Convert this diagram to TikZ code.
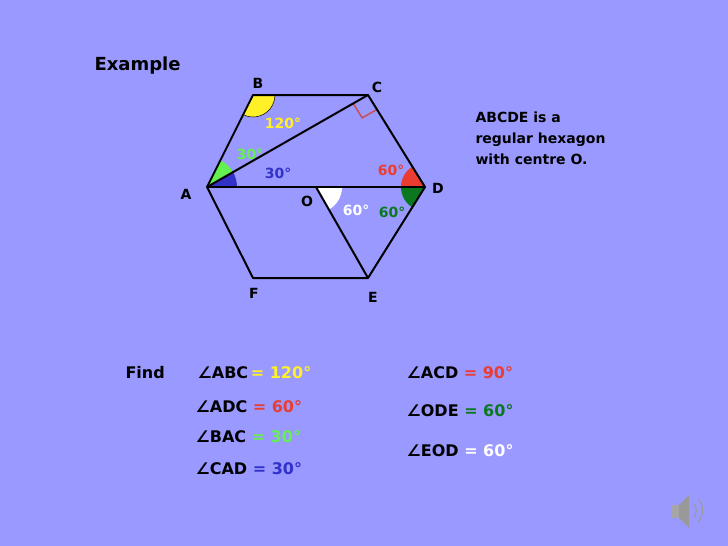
\documentclass[tikz,border=0pt]{standalone}
\usepackage{fontspec}
\usetikzlibrary{calc}
\setmainfont{DejaVu Sans}
\definecolor{bg}{RGB}{153,153,255}
\definecolor{yel}{RGB}{255,240,40}
\definecolor{lgr}{RGB}{100,240,80}
\definecolor{blu}{RGB}{50,50,200}
\definecolor{red1}{RGB}{235,60,50}
\definecolor{dgr}{RGB}{10,120,30}
\definecolor{rac}{RGB}{200,80,80}
\begin{document}
\begin{tikzpicture}[x=1pt,y=-1pt,
  lab/.style={font=\bfseries\fontsize{14}{16}\selectfont},
  txt/.style={font=\bfseries\fontsize{16}{18}\selectfont,anchor=west},
  edge/.style={line width=2pt,line join=round}]
\fill[bg] (0,0) rectangle (728,546);
\useasboundingbox (0,0) rectangle (728,546);
\coordinate (A) at (207,187); \coordinate (B) at (253,95); \coordinate (C) at (368,95);
\coordinate (D) at (425,187); \coordinate (E) at (368,278); \coordinate (F) at (253,278);
\coordinate (O) at (316,187);
% sectors
\fill[yel,draw=black,line width=0.5pt] (B) -- ++(116.6:22) arc[start angle=116.6,end angle=0,radius=22] -- cycle;
\fill[lgr] (A) -- ++(-63.4:30) arc[start angle=-63.4,end angle=-29.7,radius=30] -- cycle;
\fill[blu] (A) -- ++(-29.7:30) arc[start angle=-29.7,end angle=0,radius=30] -- cycle;
\fill[red1] (D) -- ++(-121.8:24) arc[start angle=-121.8,end angle=-180,radius=24] -- cycle;
\fill[dgr] (D) -- ++(180:24) arc[start angle=180,end angle=122.1,radius=24] -- cycle;
\fill[white] (O) -- ++(0:26) arc[start angle=0,end angle=60.3,radius=26] -- cycle;
\draw[rac,line width=1.5pt] ($(C)!17pt!(A)$) -- ($($(C)!17pt!(A)$)+($(C)!17pt!(D)$)-(C)$) -- ($(C)!17pt!(D)$);
% edges
\draw[edge] (A) -- (B) -- (C) -- (D) -- (E) -- (F) -- cycle;
\draw[edge] (A) -- (C); \draw[edge] (A) -- (D); \draw[edge] (O) -- (E);
% vertex labels
\node[lab] at (186,194) {A}; \node[lab] at (258,83) {B}; \node[lab] at (377,87) {C};
\node[lab] at (438,188) {D}; \node[lab] at (373,297) {E}; \node[lab] at (254,293) {F};
\node[lab] at (307,201) {O};
% angle labels
\node[lab,yel] at (283,123) {120°};
\node[lab,lgr] at (250,154) {30°};
\node[lab,blu] at (278,173) {30°};
\node[lab,red1] at (391,170) {60°};
\node[lab,white] at (356,210) {60°};
\node[lab,dgr] at (392,212) {60°};
\node[font=\bfseries\fontsize{18}{20}\selectfont,anchor=west] at (91,66) {Example};
\node[anchor=north west,align=left,font=\bfseries\fontsize{14}{21}\selectfont] at (472,108) {ABCDE is a\\regular hexagon\\with centre O.};
% find list
\node[txt] at (122,373) {Find};
\node[txt] at (194,373) {∠ABC\,\textcolor{yel}{= 120°}};
\node[txt] at (192,407) {∠ADC\ \textcolor{red1}{= 60°}};
\node[txt] at (192,437) {∠BAC\ \textcolor{lgr}{= 30°}};
\node[txt] at (192,469) {∠CAD\ \textcolor{blu}{= 30°}};
\node[txt] at (403,373) {∠ACD \textcolor{red1}{= 90°}};
\node[txt] at (403,411) {∠ODE\ \textcolor{dgr}{= 60°}};
\node[txt] at (403,451) {∠EOD\ \textcolor{white}{= 60°}};
% speaker icon
\fill[gray!70] (672,505) rectangle (679,518);
\fill[gray!80] (679,505) -- (689,495) -- (689,528) -- (679,518) -- cycle;
\draw[gray!80,line width=1pt] (694,504) arc[start angle=-40,end angle=40,radius=10];
\draw[gray!80,line width=1pt] (698,499) arc[start angle=-45,end angle=45,radius=16];
\end{tikzpicture}
\end{document}
